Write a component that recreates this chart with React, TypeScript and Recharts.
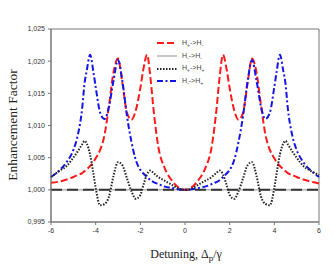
import React from 'react';
import { LineChart, Line, XAxis, YAxis, ReferenceLine, ReferenceArea } from 'recharts';

const detuning = [-6.0, -5.6, -5.3, -5.0, -4.8, -4.6, -4.5, -4.4, -4.25, -4.1, -4.0, -3.8, -3.6, -3.4, -3.2, -3.0, -2.8, -2.6, -2.4, -2.2, -2.0, -1.85, -1.7, -1.55, -1.4, -1.2, -0.9, -0.6, -0.3, 0, 0.3, 0.6, 0.9, 1.2, 1.4, 1.55, 1.7, 1.85, 2.0, 2.2, 2.4, 2.6, 2.8, 3.0, 3.2, 3.4, 3.6, 3.8, 4.0, 4.1, 4.25, 4.4, 4.5, 4.6, 4.8, 5.0, 5.3, 5.6, 6.0];

const plusToMinus = [1.0011, 1.0013, 1.0016, 1.0020, 1.0023, 1.0026, 1.0029, 1.0032, 1.0037, 1.0043, 1.0049, 1.0062, 1.0086, 1.0132, 1.0183, 1.0204, 1.0165, 1.0120, 1.0109, 1.0124, 1.0158, 1.0190, 1.0210, 1.0175, 1.0122, 1.0068, 1.0033, 1.0015, 1.0004, 1.0000, 1.0004, 1.0015, 1.0033, 1.0068, 1.0122, 1.0175, 1.0210, 1.0190, 1.0158, 1.0124, 1.0109, 1.0120, 1.0165, 1.0204, 1.0183, 1.0132, 1.0086, 1.0062, 1.0049, 1.0043, 1.0037, 1.0032, 1.0029, 1.0026, 1.0023, 1.0020, 1.0016, 1.0013, 1.0010];

const minusToMinus = [1.0, 1.0, 1.0, 1.0, 1.0, 1.0, 1.0, 1.0, 1.0, 1.0, 1.0, 1.0, 1.0, 1.0, 1.0, 1.0, 1.0, 1.0, 1.0, 1.0, 1.0, 1.0, 1.0, 1.0, 1.0, 1.0, 1.0, 1.0, 1.0, 1.0, 1.0, 1.0, 1.0, 1.0, 1.0, 1.0, 1.0, 1.0, 1.0, 1.0, 1.0, 1.0, 1.0, 1.0, 1.0, 1.0, 1.0, 1.0, 1.0, 1.0, 1.0, 1.0, 1.0, 1.0, 1.0, 1.0, 1.0, 1.0, 1.0];

const plusToPlus = [1.0020, 1.0030, 1.0037, 1.0050, 1.0060, 1.0071, 1.0076, 1.0072, 1.0055, 1.0025, 1.0003, 0.9976, 0.9978, 0.9990, 1.0022, 1.0043, 1.0038, 1.0018, 0.9998, 0.9986, 0.9992, 1.0009, 1.0024, 1.0030, 1.0026, 1.0020, 1.0014, 1.0008, 1.0002, 1.0000, 1.0002, 1.0008, 1.0014, 1.0020, 1.0026, 1.0030, 1.0024, 1.0009, 0.9992, 0.9986, 0.9998, 1.0018, 1.0038, 1.0043, 1.0022, 0.9990, 0.9978, 0.9976, 1.0003, 1.0025, 1.0055, 1.0072, 1.0076, 1.0071, 1.0060, 1.0050, 1.0037, 1.0030, 1.0023];

const minusToPlus = [1.0020, 1.0031, 1.0043, 1.0062, 1.0085, 1.0128, 1.0165, 1.0185, 1.0210, 1.0183, 1.0160, 1.0120, 1.0110, 1.0130, 1.0170, 1.0202, 1.0168, 1.0115, 1.0075, 1.0046, 1.0031, 1.0025, 1.0020, 1.0015, 1.0012, 1.0009, 1.0005, 1.0003, 1.0001, 1.0000, 1.0001, 1.0003, 1.0005, 1.0009, 1.0012, 1.0015, 1.0020, 1.0025, 1.0031, 1.0046, 1.0075, 1.0115, 1.0168, 1.0202, 1.0170, 1.0130, 1.0110, 1.0120, 1.0160, 1.0183, 1.0210, 1.0185, 1.0165, 1.0128, 1.0085, 1.0062, 1.0043, 1.0031, 1.0020];

const xTicks = [-6, -4, -2, 0, 2, 4, 6];
const yTicks = [0.995, 1.0, 1.005, 1.01, 1.015, 1.02, 1.025];

const data = detuning.map((d, i) => ({
  d,
  pm: plusToMinus[i],
  mm: minusToMinus[i],
  pp: plusToPlus[i],
  mp: minusToPlus[i],
}));

const legendItems = [
  { a: '+', b: '-', color: '#ff1a1a', dash: '7 3', width: 2 },
  { a: '-', b: '-', color: '#b4b4b4', dash: '', width: 1.5 },
  { a: '+', b: '+', color: '#222222', dash: '1.5 1.5', width: 2 },
  { a: '-', b: '+', color: '#1414e6', dash: '6 2.5 2 2.5', width: 2 },
];

const LegendBox = () => (
  <div style={{ position: 'absolute', left: 156, top: 37, fontFamily: 'Liberation Sans, Arial, sans-serif', fontSize: 7, color: '#444', lineHeight: 1 }}>
    {legendItems.map((it, i) => (
      <div key={i} style={{ display: 'flex', alignItems: 'center', height: 12.7 }}>
        <svg width={22} height={8} style={{ display: 'block' }}>
          <line x1={1} y1={4} x2={21} y2={4} stroke={it.color} strokeWidth={it.width} strokeDasharray={it.dash || undefined} />
        </svg>
        <span style={{ marginLeft: 4, whiteSpace: 'nowrap' }}>
          H<sub style={{ fontSize: 5, verticalAlign: -2 }}>{it.a}</sub>-&gt;H<sub style={{ fontSize: 5, verticalAlign: -2 }}>{it.b}</sub>
        </span>
      </div>
    ))}
  </div>
);

const fmt = (v: number) => v.toFixed(3).replace('.', ',');

export default function App() {
  return (
    <div style={{ position: 'absolute', left: 0, top: 0, width: 334, height: 267, background: '#fff' }}>
      <LineChart width={334} height={267} data={data} margin={{ top: 29, right: 15, bottom: 15, left: 11 }}>
        <ReferenceArea x1={-6} x2={6} y1={0.995} y2={1.025} fill="none" stroke="#777" strokeWidth={1} ifOverflow="visible" />
        <XAxis
          dataKey="d"
          type="number"
          domain={[-6, 6]}
          ticks={xTicks}
          height={30}
          tickSize={3}
          tickMargin={3}
          stroke="#777"
          tick={{ fontSize: 7, fill: '#333', fontFamily: 'Liberation Sans, Arial, sans-serif' }}
          label={{
            content: () => (
              <text x={186} y={258} textAnchor="middle" fontFamily="Liberation Serif, Times New Roman, serif" fontSize={12} fill="#222">
                Detuning, Δ<tspan fontSize={9} dy={3}>p</tspan><tspan dy={-3}>/γ</tspan>
              </text>
            ),
          }}
        />
        <YAxis
          type="number"
          domain={[0.995, 1.025]}
          ticks={yTicks}
          width={40}
          tickSize={3}
          tickMargin={3}
          stroke="#777"
          tickFormatter={fmt}
          tick={{ fontSize: 7, fill: '#333', fontFamily: 'Liberation Sans, Arial, sans-serif' }}
          label={{
            content: () => (
              <text x={14} y={125} transform="rotate(-90 14 125)" textAnchor="middle" dominantBaseline="middle" fontFamily="Liberation Serif, Times New Roman, serif" fontSize={13.5} fill="#222">
                Enhancement Factor
              </text>
            ),
          }}
        />
        <Line dataKey="mm" type="monotone" stroke="#b4b4b4" strokeWidth={1.5} dot={false} isAnimationActive={false} />
        <ReferenceLine y={1.0} stroke="#333" strokeWidth={2} strokeDasharray="11 5" />
        <Line dataKey="pm" type="monotone" stroke="#ff1a1a" strokeWidth={2} strokeDasharray="7 3" dot={false} isAnimationActive={false} />
        <Line dataKey="mp" type="monotone" stroke="#1414e6" strokeWidth={2} strokeDasharray="6 2.5 2 2.5" dot={false} isAnimationActive={false} />
        <Line dataKey="pp" type="monotone" stroke="#222222" strokeWidth={2} strokeDasharray="1.5 1.5" dot={false} isAnimationActive={false} />
      </LineChart>
      <LegendBox />
    </div>
  );
}
